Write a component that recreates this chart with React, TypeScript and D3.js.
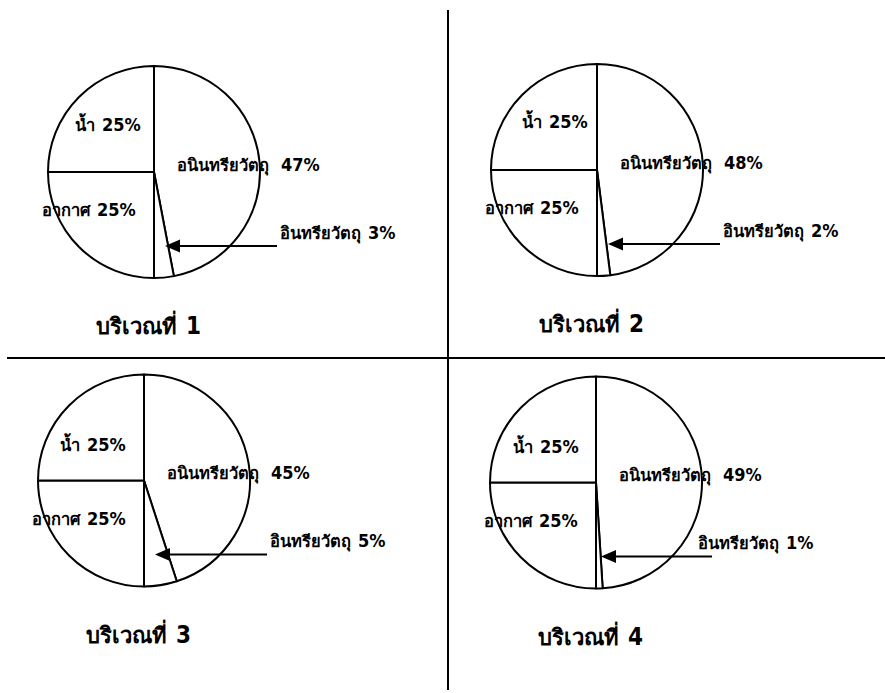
import React from "react";
import * as d3 from "d3";

const regionWord = "บริเวณที่";
const regionNumbers = ["1", "2", "3", "4"];
const categories = ["อนินทรียวัตถุ", "อินทรียวัตถุ", "อากาศ", "น้ำ"];
const inorganic = [47, 48, 45, 49];
const organic = [3, 2, 5, 1];
const air = [25, 25, 25, 25];
const water = [25, 25, 25, 25];

// layout (positions only)
const centers = [
  [154, 172],
  [597, 170],
  [144, 480.5],
  [596, 482.5],
];
const waterOffsets = [
  [-79, -41.5],
  [-75, -42],
  [-84, -29.5],
  [-83, -30],
];
const organicLabelDx = [126, 126, 126, 102];
const arrowStartDx = [123, 123, 123, 116];
const arrowTipDx = [11, 11, 11, 5];

const R = 106;
const THAI = "'DejaVu Sans', sans-serif";
const NUM = "'DejaVu Sans Condensed', 'DejaVu Sans', sans-serif";
const THAI_SIZE = 16.5;
const NUM_SIZE = 18;

function Label({ x, y, name, value, gap = 7 }: { x: number; y: number; name: string; value: number; gap?: number }) {
  return (
    <text x={x} y={y} fontWeight="bold">
      <tspan fontFamily={THAI} fontSize={THAI_SIZE}>{name}</tspan>
      <tspan fontFamily={NUM} fontSize={NUM_SIZE} dx={gap}>{`${value}%`}</tspan>
    </text>
  );
}

function Pie({ i }: { i: number }) {
  const [cx, cy] = centers[i];
  const values = [inorganic[i], organic[i], air[i], water[i]];
  const pie = d3.pie<number>().sort(null).value((d) => d);
  const arcs = pie(values);
  const arc = d3.arc<d3.PieArcDatum<number>>().innerRadius(0).outerRadius(R);
  const ay = cy + 74;
  const tipX = cx + arrowTipDx[i];
  const startX = cx + arrowStartDx[i];
  return (
    <g>
      <g transform={`translate(${cx},${cy})`}>
        {arcs.map((a, k) => (
          <path key={k} d={arc(a) || ""} fill="#fff" stroke="#000" strokeWidth={2} strokeLinejoin="round" />
        ))}
      </g>
      <Label x={cx + waterOffsets[i][0]} y={cy + waterOffsets[i][1]} name={categories[3]} value={water[i]} />
      <Label x={cx + 23} y={cy - 1.5} name={categories[0]} value={inorganic[i]} gap={12} />
      <Label x={cx - 112} y={cy + 44} name={categories[2]} value={air[i]} />
      <Label x={cx + organicLabelDx[i]} y={ay - 7.5} name={categories[1]} value={organic[i]} />
      <line x1={startX} y1={ay} x2={tipX + 12} y2={ay} stroke="#000" strokeWidth={2} />
      <path d={`M${tipX},${ay} L${tipX + 15},${ay - 6.5} L${tipX + 15},${ay + 6.5} Z`} fill="#000" />
      <text x={cx - 58} y={cy + 162} fontWeight="bold">
        <tspan fontFamily={THAI} fontSize={22}>{regionWord}</tspan>
        <tspan fontFamily={NUM} fontSize={24} dx={9}>{regionNumbers[i]}</tspan>
      </text>
    </g>
  );
}

export default function App() {
  return (
    <svg width={885} height={693} style={{ position: "absolute", left: 0, top: 0, background: "#fff" }}>
      <rect width={885} height={693} fill="#fff" />
      <line x1={448} y1={10} x2={448} y2={690} stroke="#000" strokeWidth={2} />
      <line x1={7} y1={358} x2={885} y2={358} stroke="#000" strokeWidth={2} />
      {centers.map((_, i) => (
        <Pie key={i} i={i} />
      ))}
    </svg>
  );
}
